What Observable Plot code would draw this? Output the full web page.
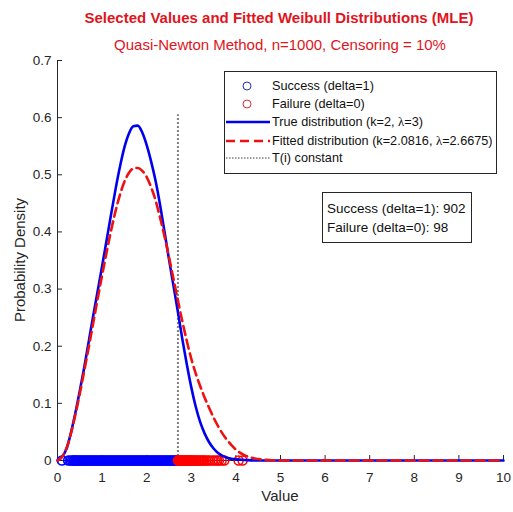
<!DOCTYPE html>
<html><head><meta charset="utf-8">
<script src="https://cdn.jsdelivr.net/npm/d3@7"></script>
<script src="https://cdn.jsdelivr.net/npm/@observablehq/plot@0.6"></script>
<style>
body{margin:0;background:#fff;}
#wrap{position:relative;width:513px;height:512px;font-family:"Liberation Sans",Arial,sans-serif;overflow:hidden;background:#fff}
.abs{position:absolute;white-space:nowrap}
#title{left:0;width:558px;text-align:center;top:10px;font-size:15px;font-weight:bold;color:#e0141c;line-height:16px}
#subtitle{left:0;width:560px;text-align:center;top:37px;font-size:15px;color:#e0141c;line-height:16px}
#xlabel{left:0;width:560px;text-align:center;top:488px;font-size:15px;color:#262626;line-height:16px}
#ylabel{left:20px;top:260px;font-size:15px;color:#262626;line-height:16px;transform:translate(-50%,-50%) rotate(-90deg)}
#legend{left:224px;top:71px}
#counts{left:322px;top:192px;width:148px;height:49px;border:1px solid #262626;background:#fff;font-size:13.5px;color:#111}
#counts div{position:absolute;left:4px}
</style></head><body>
<div id="wrap">
  <div id="plot"></div>
  <div id="title" class="abs"></div>
  <div id="subtitle" class="abs"></div>
  <div id="xlabel" class="abs"></div>
  <div id="ylabel" class="abs"></div>
  <div id="legend" class="abs"></div>
  <div id="counts" class="abs"></div>
</div>
<script>
// ---------- data ----------
const titleText = "Selected Values and Fitted Weibull Distributions (MLE)";
const subtitleText = "Quasi-Newton Method, n=1000, Censoring = 10%";
const xLabelText = "Value";
const yLabelText = "Probability Density";

const xTicks = [0,1,2,3,4,5,6,7,8,9,10];
const yTicks = [0,0.1,0.2,0.3,0.4,0.5,0.6,0.7];

const xGrid = [0,0.1,0.2,0.3,0.4,0.5,0.6,0.7,0.8,0.9,1.0,1.1,1.2,1.3,1.4,1.5,1.6,1.7,1.8,1.9,2.0,
  2.1,2.2,2.3,2.4,2.5,2.6,2.7,2.8,2.9,3.0,3.1,3.2,3.3,3.4,3.5,3.6,3.7,3.8,3.9,4.0,4.2,4.4,4.6,4.8,5,10];
const truePdf = [0,0.006,0.02,0.048,0.083,0.122,0.163,0.208,0.253,0.296,0.34,0.385,0.43,0.474,0.514,0.548,0.572,0.585,0.586,0.574,0.552,
  0.523,0.489,0.447,0.400,0.352,0.306,0.26,0.212,0.168,0.128,0.094,0.067,0.047,0.032,0.021,0.013,0.008,0.005,0.003,0.002,0.001,0,0,0,0,0];
const fittedPdf = [0,0.006,0.021,0.047,0.08,0.117,0.157,0.198,0.24,0.283,0.324,0.364,0.402,0.436,0.465,0.488,0.503,0.511,0.512,0.507,0.496,
  0.478,0.455,0.425,0.392,0.356,0.318,0.28,0.243,0.209,0.178,0.152,0.130,0.110,0.092,0.075,0.060,0.047,0.036,0.027,0.019,0.009,0.004,0.0015,0.0005,0,0];

const tConstant = 2.7;
const tLineTop = 0.605;

const successValues = [0.10,0.24,0.29,0.33,0.36,0.38,0.40,0.42,0.45,0.48,0.51,0.54,0.57,0.60,0.63,0.66,0.69,0.72,0.75,0.78,
  0.81,0.84,0.87,0.90,0.93,0.96,0.99,1.02,1.05,1.08,1.11,1.14,1.17,1.20,1.23,1.26,1.29,1.32,1.35,1.38,1.41,1.44,1.47,1.50,
  1.53,1.56,1.59,1.62,1.65,1.68,1.71,1.74,1.77,1.80,1.83,1.86,1.89,1.92,1.95,1.98,2.01,2.04,2.07,2.10,2.13,2.16,2.19,2.22,
  2.25,2.28,2.31,2.34,2.37,2.40,2.43,2.46,2.49,2.52,2.55,2.58,2.61,2.64,2.67];
const failureValues = [2.70,2.71,2.73,2.74,2.76,2.78,2.79,2.81,2.83,2.85,2.86,2.88,2.90,2.92,2.94,2.96,2.98,3.00,3.02,3.05,
  3.07,3.10,3.12,3.15,3.18,3.21,3.24,3.27,3.30,3.34,3.38,3.42,3.48,3.53,3.58,3.62,3.68,3.74,4.06,4.15];

const legendLabels = ["Success (delta=1)","Failure (delta=0)","True distribution (k=2, λ=3)","Fitted distribution (k=2.0816, λ=2.6675)","T(i) constant"];
const countLabels = ["Success (delta=1): 902","Failure (delta=0): 98"];

// ---------- styles ----------
const blue = "#0000ff", red = "#ff0000", axisColor = "#262626", gray = "#808080";
const dash = "9,5", dots = "2,2";

const trueRows = xGrid.map((x,i)=>({x, y: truePdf[i]}));
const fitRows = xGrid.map((x,i)=>({x, y: fittedPdf[i]}));

const W = 513, H = 512, mL = 57, mR = 10, mT = 60, mB = 52;
const plotW = W - mL - mR, plotH = H - mT - mB;

const chart = Plot.plot({
  width: W, height: H,
  marginLeft: mL, marginRight: mR, marginTop: mT, marginBottom: mB,
  style: {fontFamily: "Liberation Sans, Arial, sans-serif", fontSize: "13.5px", color: axisColor, background: "white"},
  x: {domain: [0, 10]},
  y: {domain: [0, 0.7]},
  marks: [
    Plot.ruleX([0], {y1: 0, y2: 0.7, stroke: axisColor, strokeWidth: 1}),
    Plot.ruleY([0], {x1: 0, x2: 10, stroke: axisColor, strokeWidth: 1}),
    Plot.tickX(xTicks, {x: d => d, insetTop: plotH - 5, stroke: axisColor}),
    Plot.tickY(yTicks, {y: d => d, insetRight: plotW - 5, stroke: axisColor}),
    Plot.ruleX([tConstant], {y1: 0, y2: tLineTop, stroke: gray, strokeWidth: 2, strokeDasharray: dots}),
    Plot.dot(successValues, {x: d => d, y: d => 0, r: 4.5, stroke: blue, fill: "none", strokeWidth: 1.7}),
    Plot.dot(failureValues, {x: d => d, y: d => 0, r: 4.5, stroke: red, fill: "none", strokeWidth: 1.5}),
    Plot.line(trueRows, {x: "x", y: "y", stroke: "#0000ee", strokeWidth: 2.6, curve: "monotone-x"}),
    Plot.line(fitRows, {x: "x", y: "y", stroke: "#ee1111", strokeWidth: 2.6, strokeDasharray: dash, curve: "monotone-x"}),
    Plot.axisX({ticks: xTicks, tickSize: 0, tickPadding: 12, tickFormat: d => String(d), label: null, fill: axisColor}),
    Plot.axisY({ticks: yTicks, tickSize: 0, tickPadding: 6, tickFormat: d => String(d), label: null, fill: axisColor})
  ]
});
document.getElementById("plot").appendChild(chart);

document.getElementById("title").textContent = titleText;
document.getElementById("subtitle").textContent = subtitleText;
document.getElementById("xlabel").textContent = xLabelText;
document.getElementById("ylabel").textContent = yLabelText;

// legend
const lw = 272, lh = 102, rowY = [15, 33, 51, 70, 87];
function labelHtml(s){
  return s.replace(/λ/g, '<tspan font-family="Liberation Serif, DejaVu Serif, serif">λ</tspan>');
}
let lg = `<svg width="${lw+2}" height="${lh+2}" style="display:block;font-family:'Liberation Sans',Arial,sans-serif">`;
lg += `<rect x="0.5" y="0.5" width="${lw}" height="${lh}" fill="#fff" stroke="${axisColor}" stroke-width="1"/>`;
lg += `<circle cx="23" cy="${rowY[0]}" r="4" fill="none" stroke="#2233bb" stroke-width="1"/>`;
lg += `<circle cx="23" cy="${rowY[1]}" r="4" fill="none" stroke="#dd3333" stroke-width="1"/>`;
lg += `<line x1="2" x2="46" y1="${rowY[2]}" y2="${rowY[2]}" stroke="#0000ee" stroke-width="2.6"/>`;
lg += `<line x1="2" x2="46" y1="${rowY[3]}" y2="${rowY[3]}" stroke="#ee1111" stroke-width="2.6" stroke-dasharray="${dash}"/>`;
lg += `<line x1="2" x2="46" y1="${rowY[4]}" y2="${rowY[4]}" stroke="${gray}" stroke-width="1.5" stroke-dasharray="1.5,1.5"/>`;
legendLabels.forEach((s,i)=>{
  lg += `<text x="48" y="${rowY[i]}" dy="0.35em" font-size="12.7" fill="#111">${labelHtml(s)}</text>`;
});
lg += `</svg>`;
document.getElementById("legend").innerHTML = lg;

// counts box
const cb = document.getElementById("counts");
countLabels.forEach((s,i)=>{
  const d = document.createElement("div");
  d.textContent = s;
  d.style.top = (9 + i*19) + "px";
  d.style.lineHeight = "14px";
  cb.appendChild(d);
});
</script>
</body></html>
